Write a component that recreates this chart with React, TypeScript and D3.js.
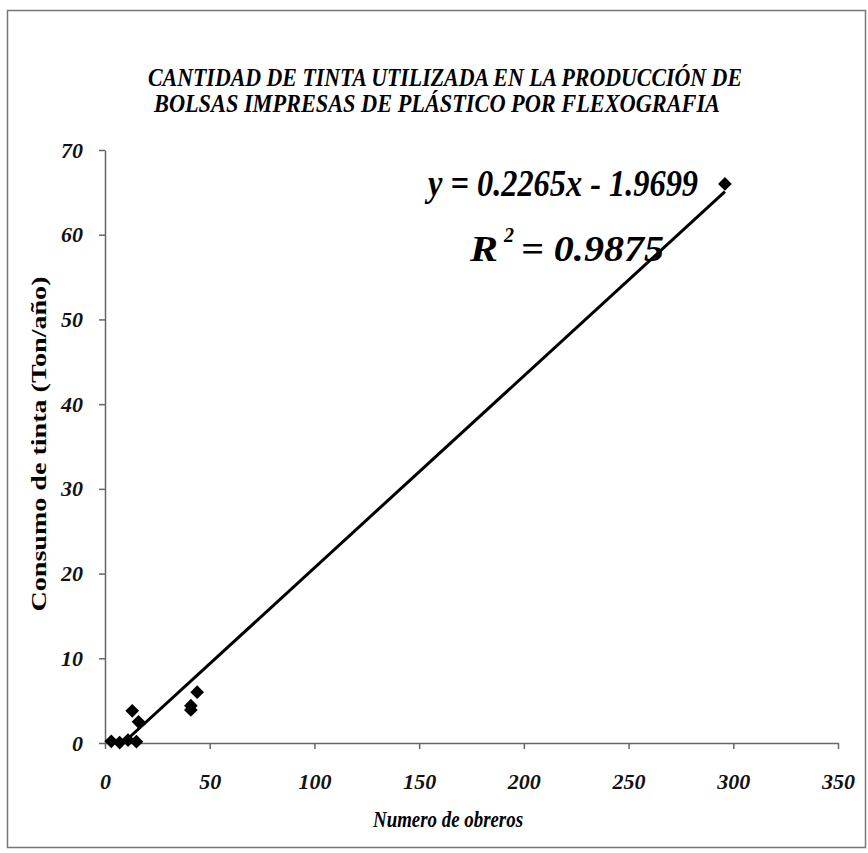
import React, { useEffect, useRef } from "react";
import * as d3 from "d3";

const width = 868;
const height = 853;
const margin = { top: 150, left: 105, bottom: 110, right: 30 };
const iwidth = 838 - margin.left;
const iheight = 743 - margin.top;

// datos
const obreros = [3, 7, 11, 13, 15, 16, 41, 41, 44, 296];
const consumo = [0.2, 0.05, 0.35, 3.8, 0.15, 2.5, 4.4, 3.9, 6.0, 66.0];
const xTicks = [0, 50, 100, 150, 200, 250, 300, 350];
const yTicks = [0, 10, 20, 30, 40, 50, 60, 70];
const pendiente = 0.2265;
const intercepto = -1.9699;

const titulo = [
  "CANTIDAD DE TINTA UTILIZADA EN LA PRODUCCIÓN DE",
  "BOLSAS IMPRESAS  DE PLÁSTICO POR FLEXOGRAFIA",
];
const serif = "'Liberation Serif', 'Times New Roman', serif";

export default function App() {
  const ref = useRef<SVGSVGElement>(null);

  useEffect(() => {
    const svg = d3.select(ref.current);
    svg.selectAll("*").remove();

    svg
      .append("rect")
      .attr("x", 7.5)
      .attr("y", 10.5)
      .attr("width", 858)
      .attr("height", 837)
      .attr("fill", "white")
      .attr("stroke", "#777")
      .attr("stroke-width", 1.5);

    // titulo
    const tw = [594, 566];
    const tx = [445, 437];
    titulo.forEach((t, i) => {
      svg
        .append("text")
        .attr("x", tx[i])
        .attr("y", 86 + i * 26)
        .attr("text-anchor", "middle")
        .attr("font-family", serif)
        .attr("font-weight", "bold")
        .attr("font-style", "italic")
        .attr("font-size", 25)
        .attr("textLength", tw[i])
        .attr("lengthAdjust", "spacingAndGlyphs")
        .text(t);
    });

    const g = svg
      .append("g")
      .attr("transform", `translate(${margin.left},${margin.top})`);

    const x = d3.scaleLinear().domain([0, 350]).range([0, iwidth]);
    const y = d3.scaleLinear().domain([0, 70]).range([iheight, 0]);

    const xAxis = g
      .append("g")
      .attr("transform", `translate(0,${iheight})`)
      .call(d3.axisBottom(x).tickValues(xTicks).tickSize(6).tickSizeOuter(0).tickPadding(24));
    const yAxis = g
      .append("g")
      .call(d3.axisLeft(y).tickValues(yTicks).tickSize(6).tickSizeOuter(0).tickPadding(16));

    [xAxis, yAxis].forEach((a) => {
      a.select(".domain").attr("stroke", "#666").attr("stroke-width", 1.5);
      a.selectAll(".tick line").attr("stroke", "#666").attr("stroke-width", 1.5);
      a.selectAll(".tick text")
        .attr("font-family", serif)
        .attr("font-weight", "bold")
        .attr("font-style", "italic")
        .attr("font-size", 22)
        .attr("fill", "#111");
    });

    // linea de tendencia (recortada en y = 0)
    const x0 = Math.max(d3.min(obreros)!, -intercepto / pendiente);
    const x1 = d3.max(obreros)!;
    g.append("line")
      .attr("x1", x(x0))
      .attr("y1", y(pendiente * x0 + intercepto))
      .attr("x2", x(x1))
      .attr("y2", y(pendiente * x1 + intercepto))
      .attr("stroke", "#000")
      .attr("stroke-width", 3);

    const diamond = d3.symbol().type(d3.symbolDiamond2).size(120);
    g.selectAll("path.pt")
      .data(obreros)
      .enter()
      .append("path")
      .attr("class", "pt")
      .attr("d", diamond)
      .attr("transform", (d, i) => `translate(${x(d)},${y(consumo[i])})`)
      .attr("fill", "#000");

    // ecuacion
    const bi = (sel: any, size: number) =>
      sel
        .attr("font-family", serif)
        .attr("font-weight", "bold")
        .attr("font-style", "italic")
        .attr("font-size", size)
        .attr("fill", "#000");

    bi(svg.append("text"), 38)
      .attr("x", 428)
      .attr("y", 196)
      .attr("textLength", 270)
      .attr("lengthAdjust", "spacingAndGlyphs")
      .text("y = 0.2265x - 1.9699");

    bi(svg.append("text"), 36)
      .attr("x", 470)
      .attr("y", 261)
      .attr("textLength", 28)
      .attr("lengthAdjust", "spacingAndGlyphs")
      .text("R");
    bi(svg.append("text"), 20).attr("x", 504).attr("y", 242).text("2");
    bi(svg.append("text"), 36)
      .attr("x", 521)
      .attr("y", 261)
      .attr("textLength", 143)
      .attr("lengthAdjust", "spacingAndGlyphs")
      .text("= 0.9875");

    // titulos de ejes
    bi(svg.append("text"), 23)
      .attr("x", 448)
      .attr("y", 827)
      .attr("text-anchor", "middle")
      .attr("textLength", 150)
      .attr("lengthAdjust", "spacingAndGlyphs")
      .text("Numero de obreros");

    svg
      .append("text")
      .attr("transform", "translate(46,444) rotate(-90)")
      .attr("text-anchor", "middle")
      .attr("font-family", serif)
      .attr("font-weight", "bold")
      .attr("font-size", 22)
      .attr("textLength", 335)
      .attr("lengthAdjust", "spacingAndGlyphs")
      .text("Consumo de tinta (Ton/año)");
  }, []);

  return (
    <svg
      ref={ref}
      width={width}
      height={height}
      style={{ position: "absolute", left: 0, top: 0, background: "white" }}
    />
  );
}
